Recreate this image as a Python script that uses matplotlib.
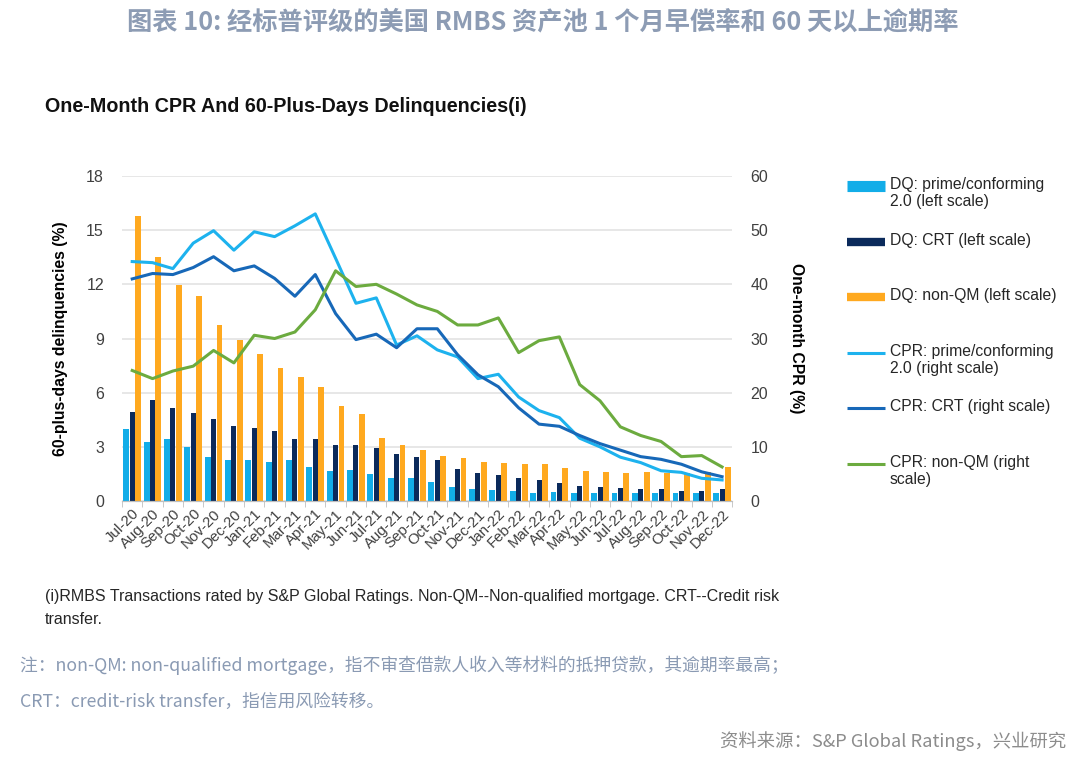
import numpy as np
import matplotlib.pyplot as plt
from matplotlib.lines import Line2D

plt.rcParams['font.family'] = ['Liberation Sans', 'DejaVu Sans']

months = ['Jul-20', 'Aug-20', 'Sep-20', 'Oct-20', 'Nov-20', 'Dec-20',
          'Jan-21', 'Feb-21', 'Mar-21', 'Apr-21', 'May-21', 'Jun-21',
          'Jul-21', 'Aug-21', 'Sep-21', 'Oct-21', 'Nov-21', 'Dec-21',
          'Jan-22', 'Feb-22', 'Mar-22', 'Apr-22', 'May-22', 'Jun-22',
          'Jul-22', 'Aug-22', 'Sep-22', 'Oct-22', 'Nov-22', 'Dec-22']

# 60+ days delinquencies (%), left scale
dq_prime = [3.97, 3.27, 3.43, 2.97, 2.45, 2.30, 2.27, 2.18, 2.27, 1.86,
            1.66, 1.72, 1.49, 1.29, 1.25, 1.03, 0.76, 0.66, 0.61, 0.55,
            0.46, 0.52, 0.46, 0.42, 0.42, 0.46, 0.46, 0.42, 0.46, 0.46]
dq_crt = [4.95, 5.60, 5.15, 4.89, 4.52, 4.17, 4.06, 3.86, 3.41, 3.41,
          3.08, 3.08, 2.95, 2.58, 2.45, 2.30, 1.75, 1.55, 1.42, 1.29,
          1.16, 0.98, 0.85, 0.77, 0.72, 0.65, 0.65, 0.57, 0.57, 0.65]
dq_nonqm = [15.8, 13.5, 11.97, 11.35, 9.74, 8.91, 8.15, 7.36, 6.86, 6.29,
            5.26, 4.80, 3.47, 3.08, 2.82, 2.51, 2.38, 2.18, 2.12, 2.05,
            2.05, 1.81, 1.68, 1.60, 1.55, 1.60, 1.55, 1.53, 1.60, 1.86]

# one-month CPR (%), right scale
cpr_prime = [44.2, 44.0, 42.9, 47.6, 49.9, 46.3, 49.7, 48.8, 50.8, 53.0,
             44.8, 36.5, 37.5, 28.8, 30.5, 27.9, 26.6, 22.6, 23.4, 19.2,
             16.7, 15.4, 11.6, 10.0, 8.1, 7.1, 5.6, 5.3, 4.2, 3.9]
cpr_crt = [41.0, 42.0, 41.8, 43.1, 45.1, 42.5, 43.4, 41.1, 37.8, 41.8,
           34.6, 29.8, 30.8, 28.3, 31.8, 31.8, 27.0, 23.3, 21.1, 17.2,
           14.2, 13.8, 12.1, 10.6, 9.4, 8.2, 7.7, 6.8, 5.4, 4.5]
cpr_nonqm = [24.1, 22.6, 24.0, 24.9, 27.8, 25.5, 30.6, 30.0, 31.2, 35.3,
             42.5, 39.6, 40.0, 38.2, 36.2, 35.0, 32.5, 32.5, 33.8, 27.4,
             29.6, 30.3, 21.5, 18.5, 13.7, 12.1, 11.0, 8.2, 8.4, 6.3]

c_prime_bar = '#12ADE8'
c_crt_bar = '#0B2A5B'
c_nonqm_bar = '#FFA91F'
c_prime_line = '#1DB2EE'
c_crt_line = '#1768B8'
c_nonqm_line = '#6CAB3F'

fig = plt.figure(figsize=(10.8, 7.65), dpi=100)
ax = fig.add_axes([0.113, 0.345, 0.565, 0.425])
ax2 = ax.twinx()

x = np.arange(len(months))
w = 0.29
ax.bar(x - w, dq_prime, w, color=c_prime_bar, zorder=2)
ax.bar(x, dq_crt, w * 0.85, color=c_crt_bar, zorder=2)
ax.bar(x + w, dq_nonqm, w, color=c_nonqm_bar, zorder=2)

ax2.plot(x, cpr_prime, color=c_prime_line, lw=2.2)
ax2.plot(x, cpr_crt, color=c_crt_line, lw=2.2)
ax2.plot(x, cpr_nonqm, color=c_nonqm_line, lw=2.2)

ax.set_xlim(-0.5, len(months) - 0.5)
ax.set_ylim(0, 18)
ax.set_yticks(np.arange(0, 19, 3))
ax2.set_ylim(0, 60)
ax2.set_yticks(np.arange(0, 61, 10))
ax.grid(axis='y', color='#e3e3e3', lw=1.2, zorder=0)
ax.set_axisbelow(True)

for a in (ax, ax2):
    for s in ('top', 'left', 'right'):
        a.spines[s].set_visible(False)
    a.spines['bottom'].set_color('#bfbfbf')
    a.tick_params(axis='y', length=0, labelsize=11.5, labelcolor='#404040', pad=13)

ax.set_xticks(x)
ax.set_xticklabels(months, rotation=45, ha='right', rotation_mode='anchor',
                   fontsize=10.8, color='#404040')
ax.tick_params(axis='x', length=0, pad=4)
ax.set_xticks(np.arange(-0.5, len(months)), minor=True)
ax.tick_params(axis='x', which='minor', length=4, color='#bfbfbf')

ax.set_ylabel('60-plus-days delinquencies (%)', fontsize=11.3, fontweight='bold', labelpad=13)
ax2.set_ylabel('One-month CPR (%)', fontsize=11.3, fontweight='bold', rotation=270, labelpad=26)

# legend drawn by hand to keep the uneven label layout
leg_items = [
    ('DQ: prime/conforming\n2.0 (left scale)', c_prime_bar, 8),
    ('DQ: CRT (left scale)', c_crt_bar, 6),
    ('DQ: non-QM (left scale)', c_nonqm_bar, 6),
    ('CPR: prime/conforming\n2.0 (right scale)', c_prime_line, 2.2),
    ('CPR: CRT (right scale)', c_crt_line, 2.2),
    ('CPR: non-QM (right\nscale)', c_nonqm_line, 2.2),
]
y0 = 1 - 186 / 765
for i, (lab, col, lw) in enumerate(leg_items):
    yy = y0 - i * 55.5 / 765
    fig.add_artist(Line2D([847 / 1080, 885 / 1080], [yy, yy], color=col, lw=lw,
                          solid_capstyle='butt'))
    fig.text(890 / 1080, yy + 9 / 765, lab, fontsize=11.3, color='#262626',
             va='top', ha='left', linespacing=1.2)

fig.text(0.503, 1 - 22 / 765, '图表 10: 经标普评级的美国 RMBS 资产池 1 个月早偿率和 60 天以上逾期率',
         family=['Noto Sans CJK SC', 'DejaVu Sans'], fontsize=18.2, fontweight='bold',
         color='#8D9CB4', ha='center', va='center')
fig.text(45 / 1080, 1 - 107 / 765, 'One-Month CPR And 60-Plus-Days Delinquencies(i)',
         fontsize=14.2, fontweight='bold', color='#111111', ha='left', va='center')
fig.text(45 / 1080, 1 - 596 / 765,
         '(i)RMBS Transactions rated by S&P Global Ratings. Non-QM--Non-qualified mortgage. CRT--Credit risk',
         fontsize=11.5, color='#262626', ha='left', va='center')
fig.text(45 / 1080, 1 - 620 / 765, 'transfer.', fontsize=11.5, color='#262626',
         ha='left', va='center')

cjk = ['Noto Sans CJK SC', 'DejaVu Sans']
fig.text(20 / 1080, 1 - 665 / 765,
         '注：non-QM: non-qualified mortgage，指不审查借款人收入等材料的抵押贷款，其逾期率最高；',
         family=cjk, fontsize=12.8, color='#8A9AB3', ha='left', va='center')
fig.text(20 / 1080, 1 - 702 / 765, 'CRT：credit-risk transfer，指信用风险转移。',
         family=cjk, fontsize=12.8, color='#8A9AB3', ha='left', va='center')
fig.text(1066 / 1080, 1 - 741 / 765, '资料来源：S&P Global Ratings，兴业研究',
         family=cjk, fontsize=13.2, color='#8C8C8C', ha='right', va='center')

fig.savefig('out.png', dpi=100, facecolor='white')
